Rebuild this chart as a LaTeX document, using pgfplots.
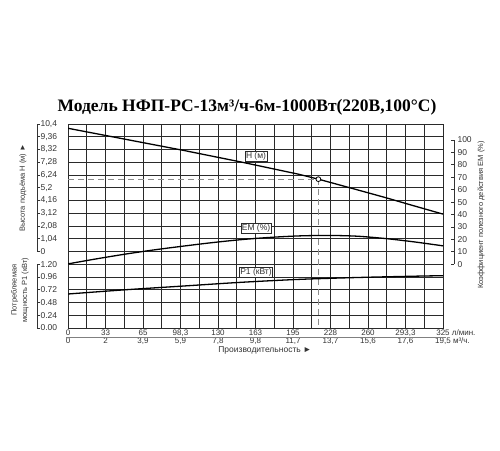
\documentclass[border=0pt]{standalone}
\usepackage{pgfplots}
\pgfplotsset{compat=1.18}
\usepackage{fontspec}
\setmainfont{Liberation Sans}
\newfontfamily\titlefont{Liberation Serif}

\definecolor{gridc}{HTML}{2A2A2A}
\definecolor{dashc}{HTML}{8C8C8C}
\definecolor{txtc}{HTML}{333333}

% all axes share the plot frame: 375 x 204 (16 rows of 12.75)
\pgfplotsset{
  frame/.style={at={(68pt,122pt)}, anchor=south west, scale only axis,
    width=375pt, height=204pt, xmin=0, xmax=325},
  bracket/.style={scale only axis, width=1pt, xmin=0, xmax=1, hide x axis,
    tick align=inside, major tick length=3pt,
    axis line style={txtc, line width=0.7pt},
    ytick style={txtc, line width=0.7pt},
    yticklabel style={txtc, font=\fontsize{8.5}{10}\selectfont}},
  curve/.style={black, line width=1.3pt},
}

% H, m
\pgfplotstableread{
Q    H
0    10.05
50   9.15
100  8.25
150  7.30
175  6.80
200  6.30
217  5.90
250  5.05
275  4.40
300  3.72
325  3.05
}\headtable

% EM, %
\pgfplotstableread{
Q    EM
0    0.3
25   4.4
50   8.2
75   11.6
100  14.6
125  17.4
150  19.8
175  21.6
200  22.8
225  23.2
250  22.6
275  20.7
300  18.0
325  14.8
}\emtable

% P1, kW
\pgfplotstableread{
Q    P
0    0.64
50   0.72
100  0.79
150  0.86
200  0.915
250  0.95
300  0.975
325  0.985
}\powtable

\begin{document}
\begin{tikzpicture}
\useasboundingbox (0pt,0pt) rectangle (500pt,450pt);

% grid and frame
\begin{axis}[frame, xmin=0, xmax=20, ymin=0, ymax=16,
    xtick={0,...,20}, ytick={0,...,16},
    xticklabels={}, yticklabels={}, major tick length=0pt,
    grid=major, grid style={gridc, line width=0.95pt},
    axis line style={gridc, line width=0.95pt}]
\end{axis}

% x tick labels, two rows
\begin{axis}[frame, hide y axis, axis x line*=bottom,
    axis line style={draw=none}, major tick length=0pt,
    ymin=0, ymax=1,
    xtick={0,32.5,65,97.5,130,162.5,195,227.5,260,292.5,325},
    xticklabels={0,33,65,{98,3},130,163,195,228,260,{293,3},325\rlap{ л/мин.}},
    xticklabel style={txtc, font=\fontsize{8}{9}\selectfont, anchor=base, yshift=-7.5pt},
    extra x ticks={0,32.5,65,97.5,130,162.5,195,227.5,260,292.5,325},
    extra x tick labels={0,2,{3,9},{5,9},{7,8},{9,8},{11,7},{13,7},{15,6},{17,6},{19,5}\rlap{ м³/ч.}},
    extra x tick style={xticklabel style={yshift=-8.3pt}}]
\end{axis}
\draw[gray, line width=0.5pt] (66pt,112.7pt) -- (446pt,112.7pt);

% H curve, duty point
\begin{axis}[frame, hide axis, ymin=-6.24, ymax=10.4]
\addplot[curve] table[x=Q, y=H] {\headtable};
\addplot[dashc, line width=1pt, dash pattern=on 6pt off 4pt]
  coordinates {(0,5.9) (217,5.9) (217,-6.24)};
\addplot[only marks, mark=*, mark size=2.4pt,
  mark options={fill=white, draw=black, line width=0.8pt}]
  coordinates {(217,5.9)};
\end{axis}

% EM curve
\begin{axis}[frame, hide axis, ymin=-51.31, ymax=112.88]
\addplot[curve, smooth] table[x=Q, y=EM] {\emtable};
\end{axis}

% P1 curve
\begin{axis}[frame, hide axis, ymin=0, ymax=3.84]
\addplot[curve, smooth] table[x=Q, y=P] {\powtable};
\end{axis}

% left brackets
\begin{axis}[bracket, at={(37pt,198.5pt)}, anchor=south west, height=127.5pt,
    ymin=0, ymax=10.4, axis y line*=left,
    ytick={0,1.04,2.08,3.12,4.16,5.2,6.24,7.28,8.32,9.36,10.4},
    yticklabels={0,{1,04},{2,08},{3,12},{4,16},{5,2},{6,24},{7,28},{8,32},{9,36},{10,4}},
    yticklabel style={anchor=west}]
\end{axis}
\begin{axis}[bracket, at={(37pt,122pt)}, anchor=south west, height=63.75pt,
    ymin=0, ymax=1.2, axis y line*=left,
    ytick={0,0.24,0.48,0.72,0.96,1.2},
    yticklabels={0.00,0.24,0.48,0.72,0.96,1.20},
    yticklabel style={anchor=west}]
\end{axis}
% right bracket
\begin{axis}[bracket, at={(454pt,185.75pt)}, anchor=south east, height=124.25pt,
    ymin=0, ymax=100, axis y line*=right,
    ytick={0,10,20,30,40,50,60,70,80,90,100},
    yticklabels={0,10,20,30,40,50,60,70,80,90,100},
    yticklabel style={anchor=west}]
\end{axis}

% curve tags
\begin{scope}[every node/.style={draw=gridc, fill=white, line width=0.5pt,
    inner sep=1pt, font=\fontsize{8.5}{10}\selectfont, text=txtc}]
\node at (256pt,294pt) {H (м)};
\node at (256pt,222pt) {EM (\%)};
\node at (256pt,177.5pt) {P1 (кВт)};
\end{scope}

% titles
\node[font=\titlefont\bfseries\fontsize{17.5}{20}\selectfont] at (247pt,343pt)
  {Модель НФП-РС-13м³/ч-6м-1000Вт(220В,100°С)};
\node[rotate=90, text=txtc, font=\fontsize{7.5}{8}\selectfont] at (23pt,262pt)
  {Высота подъёма H (м) ►};
\node[rotate=90, text=txtc, align=center, font=\fontsize{7.5}{10.5}\selectfont]
  at (20pt,160pt) {Потребляемая\\мощность P1 (кВт)};
\node[rotate=90, text=txtc, font=\fontsize{7.5}{8}\selectfont] at (481pt,235pt)
  {Коэффициент полезного действия ЕМ (\%)};
\node[text=txtc, font=\fontsize{8.5}{10}\selectfont] at (265pt,100pt)
  {Производительность ►};
\end{tikzpicture}
\end{document}
